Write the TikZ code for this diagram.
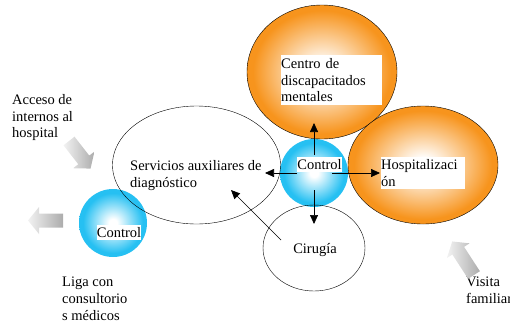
\documentclass[tikz,border=0pt]{standalone}
\usepackage{fontspec}
\setmainfont{Liberation Serif}
\usetikzlibrary{shapes.geometric,arrows.meta}
\definecolor{orangeBall}{RGB}{247,148,29}
\definecolor{blueBall}{RGB}{38,192,242}
\pgfdeclareradialshading{orangeGlow}{\pgfpoint{0bp}{0bp}}{color(0bp)=(white); color(3bp)=(white); color(23bp)=(orangeBall); color(50bp)=(orangeBall)}
\pgfdeclareradialshading{blueGlow}{\pgfpoint{0bp}{0bp}}{color(0bp)=(white); color(3bp)=(white); color(22bp)=(blueBall); color(50bp)=(blueBall)}

\begin{document}
\begin{tikzpicture}
[x=1pt, y=-1pt,
  font=\fontsize{14.5}{16.8}\selectfont,
  ballOrange/.style={ellipse, draw, thin, shading=orangeGlow, inner sep=0pt},
  ballBlue/.style={circle, shading=blueGlow, minimum size=68pt, inner sep=0pt},
  ringDecorate/.style={ellipse, draw, thin, inner sep=0pt},
  labelBox/.style={fill=white, inner xsep=0pt, inner ysep=2.5pt, align=left},
  plainText/.style={inner sep=0pt, align=left, anchor=north west},
  flowArrow/.style={-{Triangle[length=9pt,width=8pt]}, line width=0.7pt},
  blockArrow/.style={left color=gray!10, right color=gray!65, draw=none}]
\useasboundingbox (0,0) rectangle (510,324);
%% balls
\node (ctrl) at (314,173) [ballBlue] {};
\node (ctrlLeft) at (113,223) [ballBlue] {};
\node (centro) at (322,72) [ballOrange, minimum width=150pt, minimum height=134pt] {};
\node (hosp) at (423,165) [ballOrange, minimum width=150pt, minimum height=118pt] {};
\node (servicios) at (196.5,165) [ringDecorate, minimum width=168pt, minimum height=118pt] {};
\node (cirugia) at (314,248) [ringDecorate, minimum width=102pt, minimum height=86pt] {};
%% labels
\node (centroText) at (281,55) [labelBox, anchor=north west, text width=101pt, inner ysep=3pt]
  {Centro de\\discapacitados\\mentales};
\node (hospText) at (381,157) [labelBox, anchor=north west, text width=84pt]
  {Hospitalizaci\\ón};
\node (ctrlText) at (319.5,164.5) [labelBox] {Control};
\node (ctrlLeftText) at (119,232.5) [labelBox] {Control};
\node (serviciosText) at (130,160) [plainText] {Servicios auxiliares de\\diagnóstico};
\node (cirugiaText) at (315,250) [inner sep=0pt] {Cirugía};
\node (acceso) at (12,94) [plainText] {Acceso de\\internos al\\hospital};
\node (liga) at (62,277) [plainText] {Liga con\\consultorio\\s médicos};
\node (visita) at (466,277) [plainText] {Visita\\familiar};
%% arrows
\coordinate (tipUp) at (314,123);
\coordinate (tipLeft) at (265,173);
\coordinate (tipRight) at (380,173);
\coordinate (tipDown) at (314,224);
\coordinate (cirugiaStart) at (281,240);
\coordinate (tipServicios) at (231,190);
\foreach \tip/\cut in {tipUp/18pt, tipLeft/17pt, tipRight/18pt, tipDown/17pt}
{
  \draw[flowArrow, shorten <=\cut] (ctrl.center) -- (\tip);
}
\draw[flowArrow] (cirugiaStart) -- (tipServicios);
%% block arrows
\foreach \x/\y/\ang/\len in {69/141/-52/35, 63/220.5/180/35, 474/275/123/40}
{
  \path[blockArrow, shift={(\x,\y)}, rotate=\ang]
    (0,-7) -- (\len-11,-7) -- (\len-11,-13.5) -- (\len,0)
    -- (\len-11,13.5) -- (\len-11,7) -- (0,7) -- cycle;
}
\end{tikzpicture}
\end{document}
